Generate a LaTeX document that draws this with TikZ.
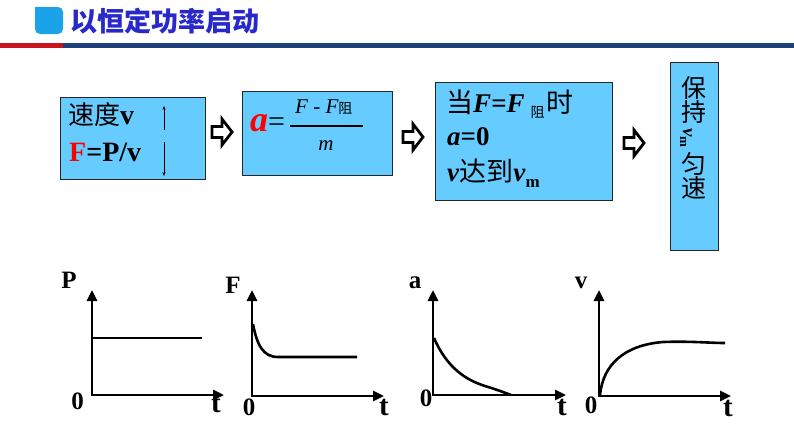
\documentclass[tikz,border=0pt]{standalone}
\usepackage{fontspec}
\setmainfont{Liberation Serif}
\newfontfamily\cjk{Noto Sans CJK SC}
\usetikzlibrary{arrows.meta}
\definecolor{boxblue}{RGB}{102,204,255}
\definecolor{titleblue}{RGB}{40,40,205}
\definecolor{sqblue}{RGB}{26,163,232}
\definecolor{linered}{RGB}{200,20,30}
\definecolor{lineblue}{RGB}{31,63,122}
\begin{document}
\begin{tikzpicture}[x=1pt,y=-1pt,
  box/.style={draw=black!85,line width=0.8pt,fill=boxblue,inner sep=0pt},
  txt/.style={anchor=base west,inner sep=0pt},
  hollowarrow/.pic={\draw[line width=2.8pt,line join=miter,fill=white]
     (-10,-5.5) -- (0,-5.5) -- (0,-13) -- (10,0) -- (0,13) -- (0,5.5) -- (-10,5.5) -- cycle;},
  axis/.style={line width=2.6pt,{Triangle[length=11pt,width=10pt]}-{Triangle[length=11pt,width=10pt]}},
  curve/.style={line width=2.6pt},
  glab/.style={font=\bfseries\fontsize{25}{25}\selectfont,inner sep=0pt},
  gzero/.style={font=\bfseries\fontsize{25}{25}\selectfont,inner sep=0pt},
  gt/.style={font=\bfseries\fontsize{29}{29}\selectfont,inner sep=0pt}]
\useasboundingbox (0,0) rectangle (794,447);
\fill[white] (0,0) rectangle (794,447);
% title
\fill[sqblue,rounded corners=5pt] (35,34) -- (63,34) -- (63,7) -- (35,7) -- cycle;
\fill[sqblue] (35,7) rectangle (43,15);
\node[anchor=west,inner sep=0pt,text=titleblue,font=\cjk\bfseries\fontsize{27}{27}\selectfont] (title) at (70,21) {以恒定功率启动};
\fill[linered] (0,43) rectangle (63,47.5);
\fill[lineblue] (63,43) rectangle (794,47.5);
% boxes
\node[box,minimum width=145pt,minimum height=82pt] (b1) at (132.5,138) {};
\node[box,minimum width=150pt,minimum height=84pt] (b2) at (317,133) {};
\node[box,minimum width=177pt,minimum height=118pt] (b3) at (523.5,141) {};
\node[box,minimum width=48pt,minimum height=188pt] (b4) at (694,156) {};
% box 1 text
\node[txt,font=\fontsize{28}{28}\selectfont] (t1a) at (68,124) {{\cjk\fontsize{26}{26}\selectfont 速度}\textbf{v}};
\node[txt,font=\bfseries\fontsize{28}{28}\selectfont] (t1b) at (69,161) {\textcolor{red}{F}=P/v};
\coordinate (u1) at (164,130); \coordinate (u2) at (164,106);
\coordinate (d1) at (164,142); \coordinate (d2) at (164,176);
\draw[line width=0.6pt,-{Stealth[length=4pt,width=3pt]}] (u1) -- (u2);
\draw[line width=0.6pt,-{Stealth[length=4pt,width=3pt]}] (d1) -- (d2);
% box 2 text
\node[txt,font=\bfseries\itshape\fontsize{36}{36}\selectfont,text=red] (ta) at (250,131) {a};
\node[txt,font=\fontsize{30}{30}\selectfont] (teq) at (268,131) {=};
\node[txt,font=\itshape\fontsize{21}{21}\selectfont] (tnum) at (295,113) {F - F{\cjk\upshape\fontsize{14}{14}\selectfont 阻}};
\coordinate (fb1) at (290,126); \coordinate (fb2) at (363,126);
\draw[line width=1.1pt] (fb1) -- (fb2);
\node[anchor=base,inner sep=0pt,font=\itshape\fontsize{21}{21}\selectfont] (tden) at (326,150) {m};
% box 3 text
\node[txt,font=\fontsize{27}{27}\selectfont] (t3a) at (446,112) {{\cjk 当}\textbf{\textit{F=F}}\hspace{6pt}\raisebox{-5pt}{\cjk\fontsize{14}{14}\selectfont 阻}\hspace{2pt}{\cjk 时}};
\node[txt,font=\fontsize{27}{27}\selectfont] (t3b) at (447,145) {\textbf{\textit{a}=0}};
\node[txt,font=\fontsize{27}{27}\selectfont] (t3c) at (447,181) {\textbf{\textit{v}}{\cjk 达到}\textbf{\textit{v}}\raisebox{-6pt}{\bfseries\fontsize{17}{17}\selectfont m}};
% box 4 text
\node[inner sep=0pt,font=\cjk\fontsize{25}{25}\selectfont] (c1) at (694,88) {保};
\node[inner sep=0pt,font=\cjk\fontsize{25}{25}\selectfont] (c2) at (694,112) {持};
\node[inner sep=0pt,rotate=-90,font=\fontsize{19}{19}\selectfont] (c3) at (686,138) {\textbf{\textit{v}}\raisebox{-3pt}{\bfseries\fontsize{13}{13}\selectfont m}};
\node[inner sep=0pt,font=\cjk\fontsize{25}{25}\selectfont] (c4) at (694,164) {匀};
\node[inner sep=0pt,font=\cjk\fontsize{25}{25}\selectfont] (c5) at (694,188) {速};
% hollow arrows
\pic at (222,132) {hollowarrow};
\pic at (413,137) {hollowarrow};
\pic at (634,143) {hollowarrow};
% graph P
\coordinate (pO) at (92,395); \coordinate (pY) at (92,290); \coordinate (pX) at (224,395);
\draw[axis] (pY) -- (pO) -- (pX);
\coordinate (p1) at (92,338); \coordinate (p2) at (202,338);
\draw[curve] (p1) -- (p2);
\node[glab] (lP) at (69,280) {P};
\node[gzero] (lP0) at (77.5,401) {0};
\node[gt] (lPt) at (216,404) {t};
% graph F
\coordinate (fO) at (252,396); \coordinate (fY) at (252,290); \coordinate (fX) at (384,396);
\draw[axis] (fY) -- (fO) -- (fX);
\draw[curve] (253,324) .. controls (257,345) and (263,357) .. (278,357) -- (357,357);
\node[glab] (lF) at (233,285) {F};
\node[gzero] (lF0) at (249,407) {0};
\node[gt] (lFt) at (384,407) {t};
% graph a
\coordinate (aO) at (433,395); \coordinate (aY) at (433,290); \coordinate (aX) at (566,395);
\draw[axis] (aY) -- (aO) -- (aX);
\draw[curve] (434,338) .. controls (447,368) and (466,380) .. (485,386) .. controls (495,389) and (503,392) .. (511,395);
\node[glab] (la) at (415,283) {a};
\node[gzero] (la0) at (426,398) {0};
\node[gt] (lat) at (562,407) {t};
% graph v
\coordinate (vO) at (599,396); \coordinate (vY) at (599,290); \coordinate (vX) at (731,396);
\draw[axis] (vY) -- (vO) -- (vX);
\draw[curve] (600,395) .. controls (603,364) and (625,345) .. (663,342) .. controls (690,341) and (710,343) .. (725,343);
\node[glab] (lv) at (581,283) {v};
\node[gzero] (lv0) at (591,405) {0};
\node[gt] (lvt) at (728,408) {t};
\end{tikzpicture}
\end{document}
